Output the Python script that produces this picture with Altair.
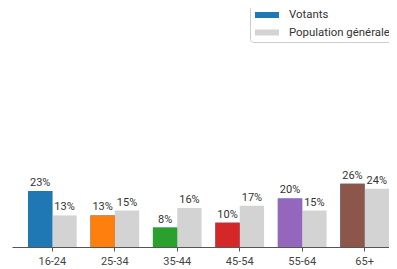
import altair as alt
import pandas as pd

ages = ["16-24", "25-34", "35-44", "45-54", "55-64", "65+"]
votants = [0.23, 0.13, 0.08, 0.10, 0.20, 0.26]
population = [0.13, 0.15, 0.16, 0.17, 0.15, 0.24]
age_colors = ["#1f77b4", "#ff7f0e", "#2ca02c", "#d62728", "#9467bd", "#8c564b"]
series_names = ["Votants", "Population générale"]
series_colors = ["#1f77b4", "#d3d3d3"]

rows = []
for a, v, p, c in zip(ages, votants, population, age_colors):
    rows.append({"age": a, "series": series_names[0], "value": v, "hex": c})
    rows.append({"age": a, "series": series_names[1], "value": p, "hex": "#d3d3d3"})
df = pd.DataFrame(rows)

x_enc = alt.X("age:N", sort=ages, title=None,
              scale=alt.Scale(paddingInner=0.22, paddingOuter=0.128, align=1),
              axis=alt.Axis(labelAngle=0, domainColor="#555555", tickColor="#555555",
                            tickSize=4, labelColor="#444444", labelFontSize=11,
                            labelFont="Roboto", labelPadding=4, grid=False))
xo_enc = alt.XOffset("series:N", sort=series_names,
                     scale=alt.Scale(domain=series_names, paddingInner=0, paddingOuter=0))
y_enc = alt.Y("value:Q", axis=None, scale=alt.Scale(domain=[0, 0.996], nice=False))

base = alt.Chart(df)

bars_legend = base.mark_bar().encode(
    x=x_enc, xOffset=xo_enc, y=y_enc,
    color=alt.Color("series:N", sort=series_names,
                    scale=alt.Scale(domain=series_names, range=series_colors),
                    legend=alt.Legend(title=None, orient="none", legendX=238, legendY=0,
                                      symbolType="M-2,-0.5H2V0.5H-2Z", symbolSize=144,
                                      symbolStrokeWidth=0, symbolOffset=7,
                                      labelFont="Roboto",
                                      labelFontSize=11.4, labelColor="#333333",
                                      labelOffset=16, padding=4, rowPadding=5.5,
                                      labelLimit=200,
                                      fillColor="white", strokeColor="#cccccc",
                                      cornerRadius=3)),
)

bars_votants = base.transform_filter(alt.datum.series == "Votants").mark_bar().encode(
    x=x_enc, xOffset=xo_enc, y=y_enc,
    color=alt.Color("hex:N", scale=None, legend=None),
)

labels = base.mark_text(baseline="bottom", dy=-3, font="Roboto", fontSize=11,
                        color="#333333").encode(
    x=x_enc, xOffset=xo_enc, y=y_enc,
    text=alt.Text("value:Q", format=".0%"),
)

chart = alt.layer(bars_legend, bars_votants, labels).resolve_scale(
    color="independent"
).properties(
    width=377, height=242,
    padding={"left": 4, "top": -3, "right": 0, "bottom": 22},
    autosize=alt.AutoSizeParams(type="none"),
).configure_view(stroke=None)

chart.save("out.html", embed_options={"renderer": "svg", "actions": False})
